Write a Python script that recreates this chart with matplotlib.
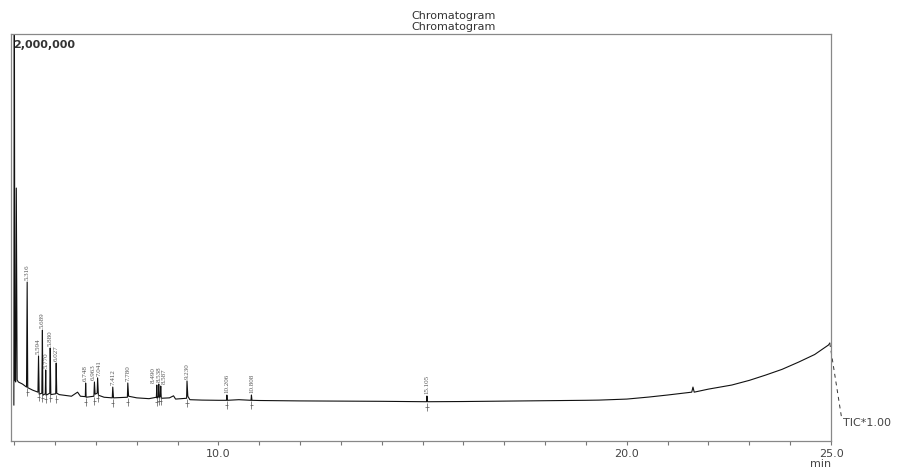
import matplotlib
matplotlib.use('Agg')
import matplotlib.pyplot as plt
import numpy as np

# Trace (retention time in min, intensity)
trace_t = [4.99, 5.00, 5.015, 5.035, 5.05, 5.07, 5.10, 5.20, 5.30, 5.316,
           5.33, 5.45, 5.58, 5.594, 5.61, 5.675, 5.689, 5.70, 5.76, 5.770,
           5.78, 5.87, 5.880, 5.895, 6.015, 6.027, 6.04, 6.10, 6.40, 6.55,
           6.62, 6.74, 6.748, 6.76, 6.95, 6.963, 6.98, 7.03, 7.041, 7.06,
           7.20, 7.40, 7.412, 7.43, 7.77, 7.780, 7.80, 8.00, 8.30, 8.48,
           8.490, 8.50, 8.53, 8.538, 8.55, 8.575, 8.587, 8.60, 8.80, 8.90,
           8.95, 9.22, 9.230, 9.25, 9.30, 9.60, 10.0, 10.196, 10.206, 10.22,
           10.50, 10.798, 10.808, 10.82, 11.0, 12.0, 13.0, 14.0, 15.095, 15.105,
           15.12, 16.0, 17.0, 18.0, 19.0, 19.32, 20.0, 20.54, 21.0, 21.59,
           21.62, 21.65, 22.0, 22.57, 23.0, 23.40, 23.8, 24.21, 24.6, 24.94,
           24.97]
trace_i = [177000, 2600000, 300000, 290000, 1243000, 300000, 290000, 280000, 265000, 781000,
           262000, 250000, 240000, 418000, 230000, 235000, 545000, 225000, 232000, 349000,
           225000, 235000, 457000, 228000, 232000, 383000, 235000, 228000, 220000, 240000,
           220000, 218000, 285000, 215000, 220000, 290000, 230000, 235000, 310000, 225000,
           215000, 212000, 265000, 212000, 215000, 285000, 220000, 212000, 208000, 215000,
           275000, 210000, 220000, 280000, 212000, 220000, 270000, 210000, 212000, 222000,
           206000, 210000, 295000, 220000, 203000, 201000, 200000, 200000, 226000, 200000,
           203000, 200000, 226000, 200000, 199000, 197000, 196000, 195000, 193000, 221000,
           193000, 194000, 196000, 198000, 200000, 201000, 206000, 216000, 226000, 240000,
           265000, 240000, 255000, 275000, 298000, 324000, 352000, 388000, 425000, 472000,
           481000]

# Labelled peaks (label_x only differs where the labels crowd together)
peak_t = [5.316, 5.594, 5.689, 5.770, 5.880, 6.027, 6.748, 6.963, 7.041,
          7.412, 7.780, 8.490, 8.538, 8.587, 9.230, 10.206, 10.808, 15.105]
label_x = [5.316, 5.594, 5.689, 5.770, 5.880, 6.027, 6.748, 6.930, 7.070,
           7.412, 7.780, 8.400, 8.540, 8.680, 9.230, 10.206, 10.808, 15.105]
peak_labels = ['5.316', '5.594', '5.689', '5.770', '5.880', '6.027', '6.748',
               '6.963', '7.041', '7.412', '7.780', '8.490', '8.538', '8.587',
               '9.230', '10.206', '10.808', '15.105']

tick_vals = [10, 20, 25]
tick_text = ['10.0', '20.0', '25.0']

fig = plt.figure(figsize=(8.97, 4.71), dpi=100)
ax = fig.add_axes([11 / 897, 1 - 441 / 471, 820 / 897, 407 / 471])

ax.plot(trace_t, trace_i, color='#111111', lw=0.8)

# peak labels and integration marks
for t, lx, lab in zip(peak_t, label_x, peak_labels):
    i = trace_t.index(t)
    top = trace_i[i]
    base = trace_i[i - 1]
    ax.text(lx, top + 8000, lab, rotation=90, ha='center', va='bottom',
            fontsize=5, color='#555555', family='Liberation Serif')
    ax.vlines(t, base - 45000, base - 5000, color='#555555', lw=0.5)
    ax.hlines(base - 25000, t - 0.04, t + 0.04, color='#555555', lw=0.5)

ax.set_xlim(4.92, 25.0)
ax.set_ylim(0, 2000000)
ax.set_xticks(np.arange(5, 26, 1))
ax.set_xticklabels([tick_text[tick_vals.index(v)] if v in tick_vals else ''
                    for v in range(5, 26)])
ax.tick_params(axis='x', length=3, width=0.8, color='#777777',
               labelsize=8, labelcolor='#444444', pad=3)
ax.set_yticks([])
for s in ax.spines.values():
    s.set_color('#888888')
    s.set_linewidth(0.9)

ax.text(0.002, 0.985, '2,000,000', transform=ax.transAxes, ha='left', va='top',
        fontsize=8, color='#333333', fontweight='semibold')

# dashed lead to the TIC label
ax.plot([24.97, 25.26], [481000, 113000], color='#333333', lw=0.7,
        ls=(0, (4, 4)), clip_on=False)
ax.text(25.3, 88000, 'TIC*1.00', ha='left', va='center', fontsize=8,
        color='#444444', clip_on=False)

fig.text(821 / 897, 1 - 464 / 471, 'min', ha='center', va='center',
         fontsize=8, color='#444444')
fig.text(454 / 897, 1 - 16 / 471, 'Chromatogram', ha='center', va='center',
         fontsize=8, color='#333333')
fig.text(454 / 897, 1 - 27 / 471, 'Chromatogram', ha='center', va='center',
         fontsize=8, color='#333333')

fig.savefig('out.png', dpi=100)
